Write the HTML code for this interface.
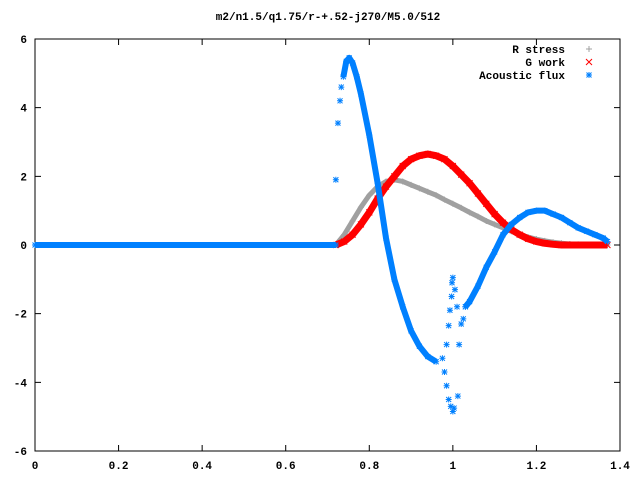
<!DOCTYPE html>
<html><head><meta charset="utf-8"><style>
body{margin:0;background:#fff}
svg{display:block;font-family:"Liberation Mono",monospace;font-weight:bold;font-size:11px}
</style></head><body>
<svg id="chart" width="640" height="480" viewBox="0 0 640 480" xmlns="http://www.w3.org/2000/svg">
<rect x="0" y="0" width="640" height="480" fill="#fff"/>
<text x="328" y="20" text-anchor="middle">m2/n1.5/q1.75/r-+.52-j270/M5.0/512</text>
<g id="axes"></g>
<g id="series"></g>
<g id="legend"></g>
</svg>
<script>
const xTicks=[0,0.2,0.4,0.6,0.8,1,1.2,1.4];
const xTickLabels=["0","0.2","0.4","0.6","0.8","1","1.2","1.4"];
const yTicks=[-6,-4,-2,0,2,4,6];
const yTickLabels=["-6","-4","-2","0","2","4","6"];
const rStress=[[0,0],[0.72,0],[0.74,0.3],[0.76,0.7],[0.78,1.1],[0.80,1.45],[0.82,1.7],[0.84,1.85],[0.86,1.9],[0.88,1.85],[0.90,1.75],[0.92,1.65],[0.94,1.55],[0.96,1.45],[0.98,1.32],[1.0,1.2],[1.02,1.08],[1.04,0.95],[1.06,0.83],[1.08,0.7],[1.10,0.6],[1.12,0.5],[1.14,0.4],[1.16,0.3],[1.18,0.23],[1.20,0.17],[1.22,0.12],[1.24,0.08],[1.26,0.05],[1.28,0.03],[1.30,0.02],[1.34,0.01],[1.37,0]];
const gWork=[[0.72,0],[0.74,0.1],[0.76,0.3],[0.78,0.6],[0.80,0.95],[0.82,1.35],[0.84,1.7],[0.86,2.0],[0.88,2.3],[0.90,2.5],[0.92,2.6],[0.94,2.65],[0.96,2.6],[0.98,2.5],[1.0,2.3],[1.02,2.05],[1.04,1.8],[1.06,1.5],[1.08,1.2],[1.10,0.9],[1.12,0.65],[1.14,0.45],[1.16,0.3],[1.18,0.18],[1.20,0.1],[1.22,0.05],[1.24,0.02],[1.26,0],[1.37,0]];
const fluxFlat=[[0,0],[0.72,0]];
const fluxLeft=[[0.738,4.9],[0.745,5.35],[0.752,5.45],[0.76,5.3],[0.77,4.9],[0.78,4.4],[0.80,3.2],[0.82,1.8],[0.84,0.2],[0.86,-1.0],[0.88,-1.8],[0.90,-2.5],[0.92,-2.95],[0.94,-3.25],[0.96,-3.4]];
const fluxRight=[[1.03,-1.8],[1.04,-1.65],[1.06,-1.2],[1.08,-0.65],[1.10,-0.2],[1.12,0.3],[1.14,0.6],[1.16,0.8],[1.18,0.95],[1.20,1.0],[1.22,1.0],[1.24,0.9],[1.26,0.8],[1.28,0.65],[1.30,0.5],[1.32,0.4],[1.34,0.3],[1.36,0.2],[1.37,0.1]];
const fluxScatter=[[0.72,1.9],[0.725,3.55],[0.73,4.2],[0.733,4.6],[0.975,-3.3],[0.98,-3.7],[0.985,-4.1],[0.99,-4.5],[0.995,-4.7],[1.0,-4.85],[1.003,-4.75],[0.985,-2.9],[0.99,-2.35],[0.993,-1.9],[0.997,-1.5],[0.998,-1.1],[1.0,-0.95],[1.005,-1.3],[1.01,-1.8],[1.015,-2.9],[1.012,-4.4],[1.02,-2.3],[1.025,-2.15],[1.03,-1.8]];
const NS="http://www.w3.org/2000/svg";
const L=35,R=620,T=39,B=451;
const xS=v=>L+(v/1.4)*(R-L);
const yS=v=>B-((v+6)/12)*(B-T);
function mk(tag,attrs,parent){const e=document.createElementNS(NS,tag);for(const k in attrs)e.setAttribute(k,attrs[k]);parent.appendChild(e);return e;}
const axes=document.getElementById('axes');
const frame=mk('rect',{x:L,y:T,width:R-L,height:B-T,fill:'none',stroke:'#000','stroke-width':1},axes);


xTicks.forEach((t,i)=>{const x=xS(t);
 const a=mk('path',{d:`M${x},${B}v-6M${x},${T}v6`,stroke:'#000'},axes);
 
 
 const tx=mk('text',{x:x,y:B+18,'text-anchor':'middle'},axes);tx.textContent=xTickLabels[i];
 
 });
yTicks.forEach((t,i)=>{const y=yS(t);
 const a=mk('path',{d:`M${L},${y}h6M${R},${y}h-6`,stroke:'#000'},axes);
 
 
 const tx=mk('text',{x:L-8,y:y+4,'text-anchor':'end'},axes);tx.textContent=yTickLabels[i];
 
 });
const S=document.getElementById('series');
function plus(x,y,c,g){return mk('path',{d:`M${x-3},${y}h6M${x},${y-3}v6`,stroke:c,'stroke-width':1},g);}
function cross(x,y,c,g){return mk('path',{d:`M${x-3},${y-3}l6,6M${x-3},${y+3}l6,-6`,stroke:c,'stroke-width':1},g);}
function star(x,y,c,g){return mk('path',{d:`M${x-3},${y}h6M${x},${y-3}v6M${x-2.5},${y-2.5}l5,5M${x-2.5},${y+2.5}l5,-5`,stroke:c,'stroke-width':1},g);}
function series(data,c,w,mfn,name){const g=mk('g',{},S);
 
 
 mk('polyline',{points:data.map(p=>xS(p[0])+','+yS(p[1])).join(' '),fill:'none',stroke:c,'stroke-width':w,'stroke-linejoin':'round'},g);
 data.forEach(p=>mfn(xS(p[0]),yS(p[1]),c,g));}
series(rStress,'#a0a0a0',5,plus,'r-stress-series');
series(gWork,'#ff0000',7,cross,'g-work-series');
series(fluxFlat,'#0080ff',6,star,'acoustic-flux-flat');
series(fluxLeft,'#0080ff',6,star,'acoustic-flux-series');
series(fluxRight,'#0080ff',6,star,'acoustic-flux-series-right');
const sg=mk('g',{},S);


fluxScatter.forEach(p=>star(xS(p[0]),yS(p[1]),'#0080ff',sg));
const lg=document.getElementById('legend');


[["R stress",'#a0a0a0',plus],["G work",'#ff0000',cross],["Acoustic flux",'#0080ff',star]].forEach((e,i)=>{
 const y=49+i*13;
 const t=mk('text',{x:565,y:y+4,'text-anchor':'end'},lg);t.textContent=e[0];
 
 
 e[2](589,y,e[1],lg);});
</script>
</body></html>
